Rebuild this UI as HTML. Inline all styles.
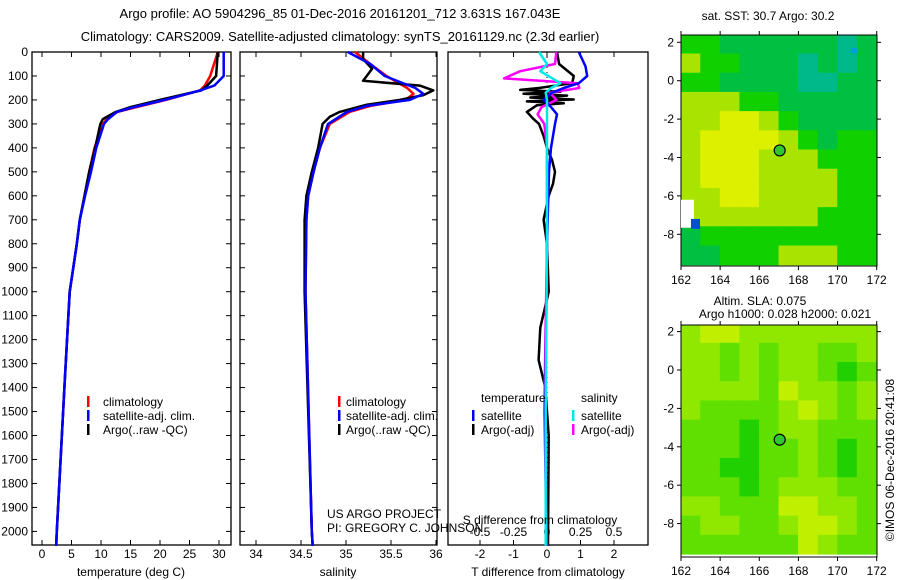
<!DOCTYPE html>
<html><head><meta charset="utf-8"><style>
html,body{margin:0;padding:0;background:#fff;}
svg{display:block;font-family:"Liberation Sans",sans-serif;font-size:12px;}
</style></head><body>
<svg id="c" width="900" height="580" viewBox="0 0 900 580" xmlns="http://www.w3.org/2000/svg">
<text x="340" y="18" text-anchor="middle" font-size="13">Argo profile: AO 5904296_85 01-Dec-2016 20161201_712 3.631S 167.043E</text>
<text x="340" y="41" text-anchor="middle" font-size="13">Climatology: CARS2009. Satellite-adjusted climatology: synTS_20161129.nc (2.3d earlier)</text>
<g id="layer"></g>
</svg>
<script>
// ---------- data ----------
const depthTicks=[0,100,200,300,400,500,600,700,800,900,1000,1100,1200,1300,1400,1500,1600,1700,1800,1900,2000];
const tempTicks=[0,5,10,15,20,25,30];
const salTicks=[34,34.5,35,35.5,36];
const tdTicks=[-2,-1,0,1,2];
const sdTicks=[-0.5,-0.25,0,0.25,0.5];
const sdTickLabels=["-0.5","-0.25","0","0.25","0.5"];
const tDepths=[0,100,140,160,200,230,250,280,300,400,500,600,700,800,900,1000,1400,2000,2060];
const tempClim=[29.8,28.5,27.6,26.8,21,16,12.8,11,10.3,8.9,8.0,7.2,6.4,5.9,5.3,4.7,3.8,2.5,2.4];
const tempSat=[30.8,30.8,29.2,26.8,20.8,15.6,12.7,11.2,10.5,9.2,8.3,7.3,6.4,5.9,5.3,4.7,3.8,2.5,2.4];
const tempArgo=[29.8,29.5,28,27,20,15,12.5,10.3,9.9,9.0,8.0,7.2,6.4,5.9,5.3,4.7,3.8,2.5,2.4];
const sDepthsC=[0,50,100,150,175,200,225,250,300,400,500,600,700,1000,2000,2060];
const salClim=[35.1,35.27,35.45,35.68,35.75,35.66,35.27,35.04,34.82,34.71,34.64,34.58,34.56,34.55,34.62,34.63];
const salSat=[35.02,35.27,35.43,35.77,35.86,35.71,35.23,35.01,34.8,34.71,34.64,34.58,34.56,34.55,34.62,34.63];
const sDepthsA=[0,30,70,100,120,140,160,180,200,220,250,270,300,400,500,600,700,1000,2000,2060];
const salArgo=[35.19,35.19,35.29,35.23,35.19,35.82,35.97,35.86,35.6,35.23,34.93,34.82,34.74,34.69,34.62,34.56,34.54,34.54,34.62,34.63];
const dDepthsSat=[0,60,100,130,150,170,200,230,260,300,400,500,800,1500,2060];
const tdSat=[0.95,1.15,1.2,0.95,0.5,0.15,-0.1,0.12,0.3,0.24,0.12,0.06,0,-0.05,-0.03];
const dDepthsArgo=[0,50,100,130,150,158,166,174,182,190,198,206,214,222,250,280,300,350,400,450,500,550,600,700,800,1000,1150,1285,1400,1600,2060];
const tdArgo=[0.3,0.36,0.8,0.75,-0.24,-0.8,0.4,-0.7,0.6,-0.5,0.8,-0.6,0.5,-0.3,-0.6,-0.4,-0.24,-0.1,0,0.15,0.24,0.18,0.05,-0.1,0,0.05,-0.2,-0.25,-0.05,0.05,0.03];
const dDepthsS=[0,50,80,110,130,150,170,200,230,260,300,400,800,1500,2060];
const sdArgo=[0.07,0.06,-0.2,-0.32,0.23,0.24,0.02,0.07,-0.04,-0.07,-0.02,0,0,-0.02,0];
const sdSat=[-0.06,0,-0.05,0.04,0.1,0.03,-0.01,0,0,0,0,0,0,-0.01,-0.01];
const lonTicks=[162,164,166,168,170,172];
const latTicks=[2,0,-2,-4,-6,-8];
const sstGrid=[
[2,2,1,1,1,1,1,1,0,1],[3,2,2,1,1,1,0,1,0,1],[2,2,1,1,1,1,0,0,1,1],[3,3,3,2,2,1,1,1,1,1],
[3,3,4,4,3,2,1,1,1,1],[3,4,4,4,4,3,2,1,2,2],[3,4,4,4,3,3,3,2,2,2],[3,4,4,4,3,3,3,3,2,2],
[3,3,4,4,3,3,3,3,2,2],[3,3,3,3,3,3,3,2,2,2],[1,2,2,2,2,2,2,2,2,2],[1,1,2,2,2,3,3,3,2,2]];
const slaGrid=[
[2,3,3,2,2,2,2,2,2,2],[2,2,1,2,1,2,2,1,1,2],[2,2,1,2,1,2,2,1,0,1],[2,2,2,2,1,3,2,2,1,2],
[2,1,1,1,1,2,3,2,1,2],[1,1,1,0,1,2,2,1,1,1],[1,1,1,0,1,1,2,1,0,1],[1,1,0,0,1,1,2,1,0,1],
[1,1,1,0,1,2,2,2,1,1],[2,2,1,1,1,3,3,2,2,1],[1,2,2,1,1,2,3,3,2,1],[1,1,1,1,1,1,3,2,1,1]];
const floatLon=167.043, floatLat=-3.631;

// ---------- helpers ----------
const NS="http://www.w3.org/2000/svg";
const L=document.getElementById('layer');
function mk(tag,attrs,txt){const e=document.createElementNS(NS,tag);for(const k in attrs)e.setAttribute(k,attrs[k]);if(txt!==undefined)e.textContent=txt;L.appendChild(e);return e;}
const yD=d=>52+d*0.2397;
const xT=t=>42+t*5.9;
const xS=s=>256+(s-34)*90;
const xTd=t=>547+t*33.5;
const xSd=s=>547+s*134;
const mapX=lon=>681+(lon-162)*19.57;
const map1Y=lat=>80.7+(-lat)*19.2;
const map2Y=lat=>370+(-lat)*19.2;

function panel(x0,x1,name){
  const r=mk('rect',{x:x0,y:52,width:x1-x0,height:493,fill:'none',stroke:'#000','stroke-width':1.3});
  
  
  depthTicks.forEach(d=>{mk('line',{x1:x0,x2:x0+5,y1:yD(d),y2:yD(d),stroke:'#000'});mk('line',{x1:x1,x2:x1-5,y1:yD(d),y2:yD(d),stroke:'#000'});});
}
function xticks(vals,fx,labels,x0){
  vals.forEach((v,i)=>{const x=fx(v);
    mk('line',{x1:x,x2:x,y1:52,y2:57,stroke:'#000'});mk('line',{x1:x,x2:x,y1:545,y2:540,stroke:'#000'});
    const t=mk('text',{x:x,y:558,'text-anchor':'middle'},labels?labels[i]:String(v));
    
    
  });
}
function line(depths,vals,fx,color,name,w){
  const pts=depths.map((d,i)=>fx(vals[i]).toFixed(1)+','+yD(d).toFixed(1)).join(' ');
  const p=mk('polyline',{points:pts,fill:'none',stroke:color,'stroke-width':w||2.5,'stroke-linejoin':'round'});
  
  
}

depthTicks.forEach(d=>{const t=mk('text',{x:28,y:yD(d)+4,'text-anchor':'end'},String(d));
  
  });

panel(32,231,'temperature-panel');
xticks(tempTicks,xT);
line(tDepths,tempClim,xT,'#ff0000','temp-climatology-line');
line(tDepths,tempArgo,xT,'#000','temp-argo-line');
line(tDepths,tempSat,xT,'#0000ff','temp-satellite-line');
mk('text',{x:131,y:576,'text-anchor':'middle'},'temperature (deg C)');

panel(240,437,'salinity-panel');
xticks(salTicks,xS);
line(sDepthsC,salClim,xS,'#ff0000','sal-climatology-line');
line(sDepthsA,salArgo,xS,'#000','sal-argo-line');
line(sDepthsC,salSat,xS,'#0000ff','sal-satellite-line');
mk('text',{x:338,y:576,'text-anchor':'middle'},'salinity');
mk('text',{x:327,y:518},'US ARGO PROJECT');
mk('text',{x:327,y:532},'PI: GREGORY C. JOHNSON');

[[87,'temp-legend'],[338,'sal-legend']].forEach(([lx,nm])=>{
  [['#ff0000','climatology'],['#0000ff','satellite-adj. clim.'],['#000','Argo(..raw -QC)']].forEach((e,i)=>{
    const y=402+i*14;
    mk('rect',{x:lx,y:y-6,width:2.5,height:11,fill:e[0]});
    const t=mk('text',{x:lx+16-(nm==='sal-legend'?8:0),y:y+4},e[1]);
    
    
  });
});

mk('rect',{x:448,y:52,width:200,height:493,fill:'none',stroke:'#000','stroke-width':1.3});
tdTicks.forEach(v=>{const x=xTd(v);mk('line',{x1:x,x2:x,y1:52,y2:57,stroke:'#000'});mk('line',{x1:x,x2:x,y1:545,y2:540,stroke:'#000'});
  mk('text',{x:x,y:558,'text-anchor':'middle'},String(v));});
sdTicks.forEach((v,i)=>{mk('text',{x:xSd(v),y:536,'text-anchor':'middle'},sdTickLabels[i]);});
mk('line',{x1:547,x2:547,y1:52,y2:545,stroke:'#000','stroke-dasharray':'1,4'});
line(dDepthsArgo,tdArgo,xTd,'#000','t-diff-argo-line',2.5);
line(dDepthsS,sdArgo,xSd,'#ff00ff','s-diff-argo-line',2.5);
line(dDepthsSat,tdSat,xTd,'#0000ff','t-diff-satellite-line',2.5);
line(dDepthsS,sdSat,xSd,'#00e8e8','s-diff-satellite-line',2.5);
mk('text',{x:540,y:524,'text-anchor':'middle'},'S difference from climatology');
mk('text',{x:548,y:576,'text-anchor':'middle'},'T difference from climatology');
mk('text',{x:481,y:402},'temperature');
mk('text',{x:581,y:402},'salinity');
[['#0000ff',472,'satellite'],['#000',472,'Argo(-adj)'],['#00e8e8',572,'satellite'],['#ff00ff',572,'Argo(-adj)']].forEach((e,i)=>{
  const y=416+(i%2)*14;
  mk('rect',{x:e[1],y:y-6,width:2.5,height:11,fill:e[0]});
  mk('text',{x:e[1]+9,y:y+4},e[2]);
});

const sstCols=['#00b98a','#00c040','#10d000','#a8e400','#dcf000'];
const slaCols=['#20d000','#60e000','#90e800','#c0f000'];
function map(grid,cols,fy,name,top,bottom){
  const g=mk('g',{});
  
  
  grid.forEach((row,r)=>row.forEach((v,c)=>{
    const lat0=2.4-r, lat1=lat0-1;
    const y0=Math.max(top,fy(lat0)), y1=Math.min(bottom,fy(lat1));
    const rc=document.createElementNS(NS,'rect');
    rc.setAttribute('x',mapX(162+c)-0.3);rc.setAttribute('y',y0-0.3);
    rc.setAttribute('width',19.57+0.6);rc.setAttribute('height',y1-y0+0.6);
    rc.setAttribute('fill',cols[v]);g.appendChild(rc);
  }));
  mk('rect',{x:681,y:top,width:196,height:bottom-top,fill:'none',stroke:'#000'});
  lonTicks.forEach(l=>{const x=mapX(l);mk('line',{x1:x,x2:x,y1:top,y2:top-4,stroke:'#000'});mk('line',{x1:x,x2:x,y1:bottom,y2:bottom+4,stroke:'#000'});
    mk('text',{x:x,y:bottom+18,'text-anchor':'middle'},String(l));});
  latTicks.forEach(l=>{const y=fy(l);mk('line',{x1:681,x2:677,y1:y,y2:y,stroke:'#000'});mk('line',{x1:877,x2:881,y1:y,y2:y,stroke:'#000'});
    mk('text',{x:674,y:y+4,'text-anchor':'end'},String(l));});
  const c=mk('circle',{cx:mapX(floatLon),cy:fy(floatLat),r:5.5,fill:'#30c830',stroke:'#000','stroke-width':1.2});
  
  
}
map(sstGrid,sstCols,map1Y,'sst-map',35,266);
mk('rect',{x:681,y:map1Y(-6.2),width:13,height:28,fill:'#fff'});
mk('rect',{x:691,y:map1Y(-7.2),width:9,height:10,fill:'#0050d0'});
mk('rect',{x:851,y:map1Y(1.7),width:6,height:5,fill:'#00a0e0'});
map(slaGrid,slaCols,map2Y,'sla-map',325,557);
mk('text',{x:768,y:20,'text-anchor':'middle'},'sat. SST: 30.7  Argo: 30.2');
mk('text',{x:760,y:305,'text-anchor':'middle'},'Altim. SLA: 0.075');
mk('text',{x:785,y:318,'text-anchor':'middle'},'Argo h1000: 0.028 h2000: 0.021');
mk('text',{x:0,y:0,'text-anchor':'middle',transform:'translate(894,460) rotate(-90)'},'©IMOS 06-Dec-2016 20:41:08');
</script>
</body></html>
